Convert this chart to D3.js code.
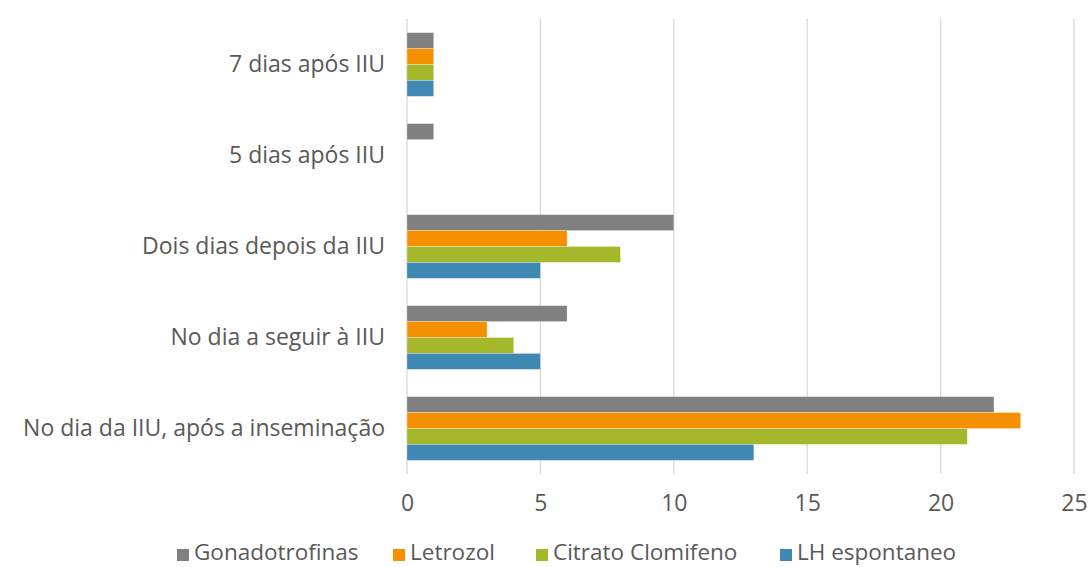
<!DOCTYPE html>
<html>
<head>
<meta charset="utf-8">
<script src="https://cdn.jsdelivr.net/npm/d3@7"></script>
<style>
  body { margin: 0; background: #fff; }
  text { font-family: "Open Sans", sans-serif; fill: #595959; }
</style>
</head>
<body>
<div id="chart"></div>
<script>
// categories, top to bottom
const categories = ["7 dias após IIU", "5 dias após IIU", "Dois dias depois da IIU",
  "No dia a seguir à IIU", "No dia da IIU, após a inseminação"];
// series, in the order drawn inside each group (top to bottom)
const seriesNames = ["Gonadotrofinas", "Letrozol", "Citrato Clomifeno", "LH espontaneo"];
const seriesColors = ["#808080", "#F59100", "#A5B82B", "#3F88B4"];
const gonadotrofinas = [1, 1, 10, 6, 22];
const letrozol = [1, 0, 6, 3, 23];
const citrato = [1, 0, 8, 4, 21];
const lhEspontaneo = [1, 0, 5, 5, 13];
const xTicks = [0, 5, 10, 15, 20, 25];

const seriesValues = [gonadotrofinas, letrozol, citrato, lhEspontaneo];

const W = 1090, H = 567;
const margin = {top: 19, right: 16, bottom: 93, left: 407},
    width = W - margin.left - margin.right,
    height = H - margin.top - margin.bottom;

const svg = d3.select("#chart").append("svg")
    .attr("width", W).attr("height", H)
  .append("g")
    .attr("transform", `translate(${margin.left}, ${margin.top})`);

const x = d3.scaleLinear().domain([0, 25]).range([0, 667]);
const y = d3.scaleBand().domain(categories).range([0, height]).paddingInner(0.3).paddingOuter(0.15);
const ySub = d3.scaleBand().domain(seriesNames).range([0, y.bandwidth()]);

// gridlines
svg.selectAll("line.grid")
  .data(xTicks)
  .enter().append("line")
    .attr("x1", d => x(d)).attr("x2", d => x(d))
    .attr("y1", 0).attr("y2", height)
    .attr("stroke", "#d9d9d9").attr("stroke-width", 1.3);

// x axis labels
const xAxis = svg.append("g")
  .attr("transform", `translate(0, ${height})`)
  .call(d3.axisBottom(x).tickValues(xTicks).tickSize(0).tickPadding(21));
xAxis.select(".domain").remove();
xAxis.selectAll("text").style("font-size", "23px").attr("fill", "#595959");

// y axis labels
const yAxis = svg.append("g")
  .call(d3.axisLeft(y).tickSize(0).tickPadding(22));
yAxis.select(".domain").remove();
yAxis.selectAll("text").style("font-size", "23px").attr("fill", "#595959");

// bars
const groups = svg.selectAll("g.cat")
  .data(categories)
  .enter().append("g")
    .attr("transform", d => `translate(0, ${y(d)})`);

groups.selectAll("rect")
  .data((c, i) => seriesNames.map((s, j) => ({s: s, v: seriesValues[j][i], c: seriesColors[j]})))
  .enter().append("rect")
    .filter(d => d.v > 0)
    .attr("x", x(0))
    .attr("y", d => ySub(d.s))
    .attr("width", d => x(d.v) - x(0))
    .attr("height", ySub.bandwidth())
    .attr("fill", d => d.c)
    .attr("stroke", "#ffffff").attr("stroke-opacity", 0.35).attr("stroke-width", 0.8);

// legend
const legendX = [177, 393, 536, 780];
const legend = d3.select("svg").append("g").attr("transform", `translate(0, 553)`);
const li = legend.selectAll("g")
  .data(seriesNames)
  .enter().append("g")
    .attr("transform", (d, i) => `translate(${legendX[i]}, 0)`);
li.append("rect")
  .attr("x", 0).attr("y", -4).attr("width", 12).attr("height", 12)
  .attr("fill", (d, i) => seriesColors[i]);
li.append("text")
  .attr("x", 17).attr("dy", "0.3em")
  .style("font-size", "22.5px")
  .text(d => d);
</script>
</body>
</html>
